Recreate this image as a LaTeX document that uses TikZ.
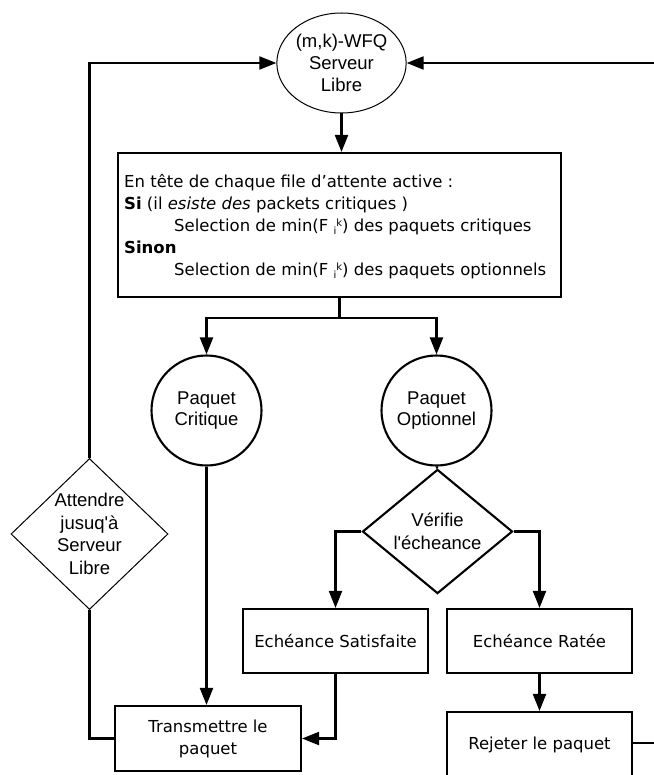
\documentclass[tikz,border=0pt]{standalone}
\usepackage{fontspec}
\setmainfont{DejaVu Sans}
\newfontfamily\arialf{Liberation Sans}
\usetikzlibrary{arrows.meta,shapes.geometric}
\newcommand\fik{F\ {\fontsize{10}{10}\selectfont\raisebox{-2.5pt}{i}\raisebox{5.5pt}{k}}}
\begin{document}
\begin{tikzpicture}[x=1pt,y=-1pt,
  line/.style={line width=2.1pt},
  conn/.style={line width=2.1pt,-{Triangle[length=17pt,width=13pt]}},
  boxnode/.style={draw,line width=2.1pt,inner sep=0pt,align=center,font=\fontsize{16.5}{22}\selectfont},
  rond/.style={circle,draw,inner sep=0pt,minimum size=110pt,align=center,font=\arialf\fontsize{18.5}{21.5}\selectfont},
  losange/.style={diamond,draw,inner sep=0pt,align=center,font=\arialf\fontsize{18.5}{22.5}\selectfont}]
\useasboundingbox (0,0) rectangle (653,775);
\node[ellipse,draw,line width=1pt,inner sep=0pt,minimum width=121pt,minimum height=100pt,align=center,font=\arialf\fontsize{18.5}{22}\selectfont] (srv) at (341.5,63) {(m,k)-WFQ\\Serveur\\Libre};
\node[boxnode,minimum width=443pt,minimum height=144pt] (sel) at (339.5,225) {};
\node[align=left,anchor=west,inner sep=0pt,font=\fontsize{16.5}{22}\selectfont] (seltxt) at (124,227)
  {En tête de chaque file d'attente active :\\
   \textbf{Si} (il \textit{esiste des} packets critiques )\\
   \hspace*{50pt}Selection de min(\fik) des paquets critiques\\
   \textbf{Sinon}\\
   \hspace*{50pt}Selection de min(\fik) des paquets optionnels};
\coordinate (spl) at (339.5,318);
\node[rond,line width=2.1pt] (crit) at (206.5,410.5) {Paquet\\Critique};
\node[rond,line width=2.1pt] (opt) at (436.5,410.5) {Paquet\\Optionnel};
\node[losange,line width=2.1pt,minimum width=150pt,minimum height=107pt] (ver) at (437.5,531.5) {Vérifie\\l'écheance};
\node[losange,line width=1pt,minimum width=157pt,minimum height=116pt] (att) at (89.5,534) {Attendre\\jusuq'à\\Serveur\\Libre};
\node[boxnode,minimum width=185pt,minimum height=64pt] (sat) at (335.5,641) {Echéance Satisfaite};
\node[boxnode,minimum width=185pt,minimum height=64pt] (rat) at (539.5,641) {Echéance Ratée};
\node[boxnode,minimum width=185pt,minimum height=66pt] (rej) at (539.5,745) {Rejeter le paquet};
\node[boxnode,minimum width=186pt,minimum height=65pt] (tx) at (208,738.5) {Transmettre le\\paquet};
\coordinate (rc) at (656,743);
\draw[conn] (srv.south) -- (srv.south |- sel.north);
\draw[line] (sel.south) -- (spl);
\draw[conn] (spl) -| (crit.north);
\draw[conn] (spl) -| (opt.north);
\draw[line] (opt.south) -- (ver.north);
\draw[conn] (ver.west) -| (sat.north);
\draw[conn] (ver.east) -| (rat.north);
\draw[conn] (rat.south) -- (rej.north);
\draw[conn] (crit.south) -- (crit.south |- tx.north);
\draw[conn] (sat.south) |- (tx.east);
\draw[line] (tx.west) -| (att.south);
\draw[conn] (att.north) |- (srv.west);
\draw[conn] (rej.east |- rc) -- (rc) |- (srv.east);
\end{tikzpicture}
\end{document}
